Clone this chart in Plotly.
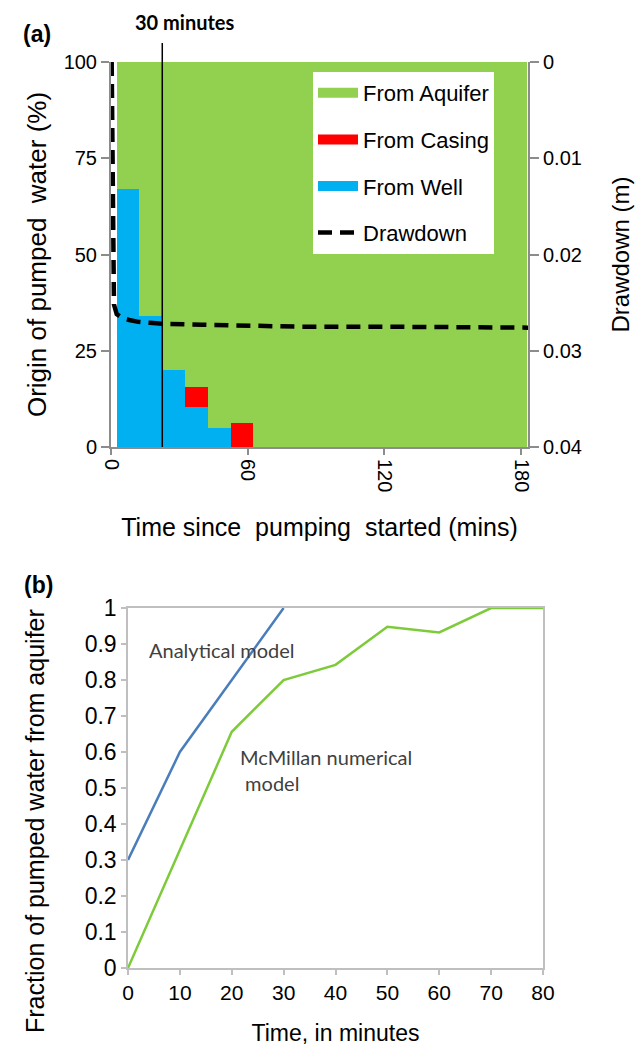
import plotly.graph_objects as go

# ---------------- Panel (a) data ----------------
bar_time = [7.5, 17.5, 27.5, 37.5, 47.5, 57.5, 67.5, 77.5, 87.5, 97.5,
            107.5, 117.5, 127.5, 137.5, 147.5, 157.5, 167.5, 177.5]
from_well = [67, 34, 20, 10.4, 5, 0, 0, 0, 0, 0, 0, 0, 0, 0, 0, 0, 0, 0]
from_casing = [0, 0, 0, 5.2, 0, 6.2, 0, 0, 0, 0, 0, 0, 0, 0, 0, 0, 0, 0]
from_aquifer = [100 - w - c for w, c in zip(from_well, from_casing)]

dd_time = [0.3, 0.6, 0.9, 1.3, 2.5, 5, 8, 12, 17, 22.5, 40, 60, 83, 120, 150, 183]
drawdown = [0.0, 0.009, 0.019, 0.0252, 0.0262, 0.0266, 0.0268, 0.0270, 0.0271,
            0.0272, 0.0273, 0.0274, 0.0275, 0.0275, 0.0276, 0.0276]

a_xticks = [0, 60, 120, 180]
a_yticks = [0, 25, 50, 75, 100]
dd_ticks = [0, 0.01, 0.02, 0.03, 0.04]
dd_ticktext = ["0", "0.01", "0.02", "0.03", "0.04"]
marker_time = 22.5

# ---------------- Panel (b) data ----------------
analytical_t = [0, 10, 20, 30]
analytical_f = [0.3, 0.6, 0.8, 1.0]
mcmillan_t = [0, 10, 20, 30, 40, 50, 60, 70, 80]
mcmillan_f = [0.0, 0.33, 0.656, 0.80, 0.842, 0.948, 0.932, 1.0, 1.0]
b_yticks = [0, 0.1, 0.2, 0.3, 0.4, 0.5, 0.6, 0.7, 0.8, 0.9, 1.0]
b_yticktext = ["0", "0.1", "0.2", "0.3", "0.4", "0.5", "0.6", "0.7", "0.8", "0.9", "1"]

GREEN = "#92D050"
RED = "#FF0000"
BLUE = "#00B0F0"
ARIAL = "Arial, Liberation Sans, sans-serif"
CAL = "Lato, Open Sans, sans-serif"

W, H = 635, 1046
def px_x(p): return p / W
def px_y(p): return 1 - p / H

fig = go.Figure()

# stacked bars
fig.add_trace(go.Bar(x=bar_time, y=from_well, width=10, marker=dict(color=BLUE, line=dict(width=0)),
                     showlegend=False, xaxis="x", yaxis="y", name="From Well"))
fig.add_trace(go.Bar(x=bar_time, y=from_casing, width=10, marker=dict(color=RED, line=dict(width=0)),
                     showlegend=False, xaxis="x", yaxis="y", name="From Casing"))
fig.add_trace(go.Bar(x=bar_time, y=from_aquifer, width=10, marker=dict(color=GREEN, line=dict(width=0)),
                     showlegend=False, xaxis="x", yaxis="y", name="From Aquifer"))

# legend proxies
for i, (nm, col) in enumerate([("From Aquifer", GREEN), ("From Casing", RED), ("From Well", BLUE)]):
    fig.add_trace(go.Scatter(x=[None], y=[None], mode="lines", name=nm,
                             line=dict(color=col, width=10), legendgroup=nm, legendrank=i + 1,
                             xaxis="x", yaxis="y"))

# drawdown
fig.add_trace(go.Scatter(x=dd_time, y=drawdown, mode="lines", name="Drawdown",
                         line=dict(color="black", width=4.5, dash="14px,8px"),
                         legendgroup="dd", legendrank=4, xaxis="x", yaxis="y3"))

# panel (b)
fig.add_trace(go.Scatter(x=analytical_t, y=analytical_f, mode="lines", showlegend=False,
                         line=dict(color="#4A7EBB", width=2.5), cliponaxis=False,
                         xaxis="x2", yaxis="y2", name="Analytical model"))
fig.add_trace(go.Scatter(x=mcmillan_t, y=mcmillan_f, mode="lines", showlegend=False,
                         line=dict(color="#7DCB3A", width=2.5), cliponaxis=False,
                         xaxis="x2", yaxis="y2", name="McMillan numerical model"))

A_GRAY = "#8C8C8C"
B_GRAY = "#BFBFBF"

fig.update_layout(
    template="none",
    width=W, height=H,
    margin=dict(l=0, r=0, t=0, b=0, autoexpand=False),
    paper_bgcolor="white", plot_bgcolor="rgba(0,0,0,0)",
    barmode="stack", bargap=0,
    font=dict(family=ARIAL, color="black", size=20),
    legend=dict(x=px_x(313), y=px_y(72), xanchor="left", yanchor="top",
                bgcolor="white", borderwidth=0, font=dict(size=22, family=ARIAL),
                tracegroupgap=15, itemwidth=40),
    xaxis=dict(domain=[px_x(111), px_x(528)], range=[0, 183], anchor="y", automargin=False,
               tickvals=a_xticks, tickangle=90, ticks="outside", ticklen=6, tickwidth=2,
               tickcolor=A_GRAY, showline=True, linecolor=A_GRAY, linewidth=2,
               showgrid=False, zeroline=False, tickfont=dict(size=20),
               title=dict(text="Time since\u00a0 pumping\u00a0 started (mins)",
                          font=dict(size=25), standoff=27)),
    yaxis=dict(domain=[px_y(447), px_y(62)], range=[0, 100], anchor="x", automargin=False,
               tickvals=a_yticks, ticks="outside", ticklen=8, tickwidth=2,
               tickcolor=A_GRAY, showline=True, linecolor=A_GRAY, linewidth=2,
               showgrid=False, zeroline=False, tickfont=dict(size=20),
               title=dict(text="Origin of pumped\u00a0 water (%)", font=dict(size=26), standoff=10)),
    yaxis3=dict(overlaying="y", side="right", anchor="x", range=[0.04, 0], automargin=False,
                tickvals=dd_ticks, ticktext=dd_ticktext, ticks="outside", ticklen=9, tickwidth=2,
                tickcolor=A_GRAY, showline=True, linecolor=A_GRAY, linewidth=2,
                showgrid=False, zeroline=False, tickfont=dict(size=20),
                title=dict(text="Drawdown (m)", font=dict(size=24), standoff=31)),
    xaxis2=dict(domain=[px_x(128), px_x(543)], range=[0, 80], anchor="y2", automargin=False,
                dtick=10, tick0=0, ticks="outside", ticklen=5, tickwidth=1.5,
                tickcolor=B_GRAY, showline=True, linecolor=B_GRAY, linewidth=1.5, mirror=True,
                showgrid=False, zeroline=False, tickfont=dict(size=21),
                title=dict(text="Time, in minutes", font=dict(size=23), standoff=34)),
    yaxis2=dict(domain=[px_y(968), px_y(608)], range=[0, 1], anchor="x2", automargin=False,
                tickvals=b_yticks, ticktext=b_yticktext, ticks="outside", ticklen=5, tickwidth=1.5,
                tickcolor=B_GRAY, showline=True, linecolor=B_GRAY, linewidth=1.5, mirror=True,
                showgrid=False, zeroline=False, tickfont=dict(size=23)),
)

# 30-minute marker line
fig.add_shape(type="line", xref="x", yref="paper", x0=marker_time, x1=marker_time,
              y0=px_y(447), y1=px_y(43), line=dict(color="black", width=1.5))

fig.add_annotation(x=px_x(184), y=px_y(22), xref="paper", yref="paper", text="<b>30 minutes</b>",
                   xanchor="center", yanchor="middle",
                   showarrow=False, font=dict(family=CAL, size=20, color="black"))
fig.add_annotation(x=px_x(37), y=px_y(34), xref="paper", yref="paper", text="<b>(a)</b>",
                   xanchor="center", yanchor="middle",
                   showarrow=False, font=dict(family=ARIAL, size=23, color="black"))
fig.add_annotation(x=px_x(38), y=px_y(585), xref="paper", yref="paper", text="<b>(b)</b>",
                   xanchor="center", yanchor="middle",
                   showarrow=False, font=dict(family=ARIAL, size=23, color="black"))
fig.add_annotation(x=px_x(35), y=px_y(821), xref="paper", yref="paper",
                   xanchor="center", yanchor="middle",
                   text="Fraction of pumped water from aquifer", textangle=-90,
                   showarrow=False, font=dict(family=ARIAL, size=25, color="black"))
fig.add_annotation(x=px_x(147), y=px_y(650), xref="paper", yref="paper", xanchor="left",
                   yanchor="middle",
                   text="Analytical model", showarrow=False,
                   font=dict(family=CAL, size=20, color="#404040"))
fig.add_annotation(x=px_x(238), y=px_y(770), xref="paper", yref="paper", xanchor="left",
                   yanchor="middle",
                   text="McMillan numerical<br> model", showarrow=False, align="left",
                   font=dict(family=CAL, size=20, color="#404040"))

fig.write_html("out.html")
